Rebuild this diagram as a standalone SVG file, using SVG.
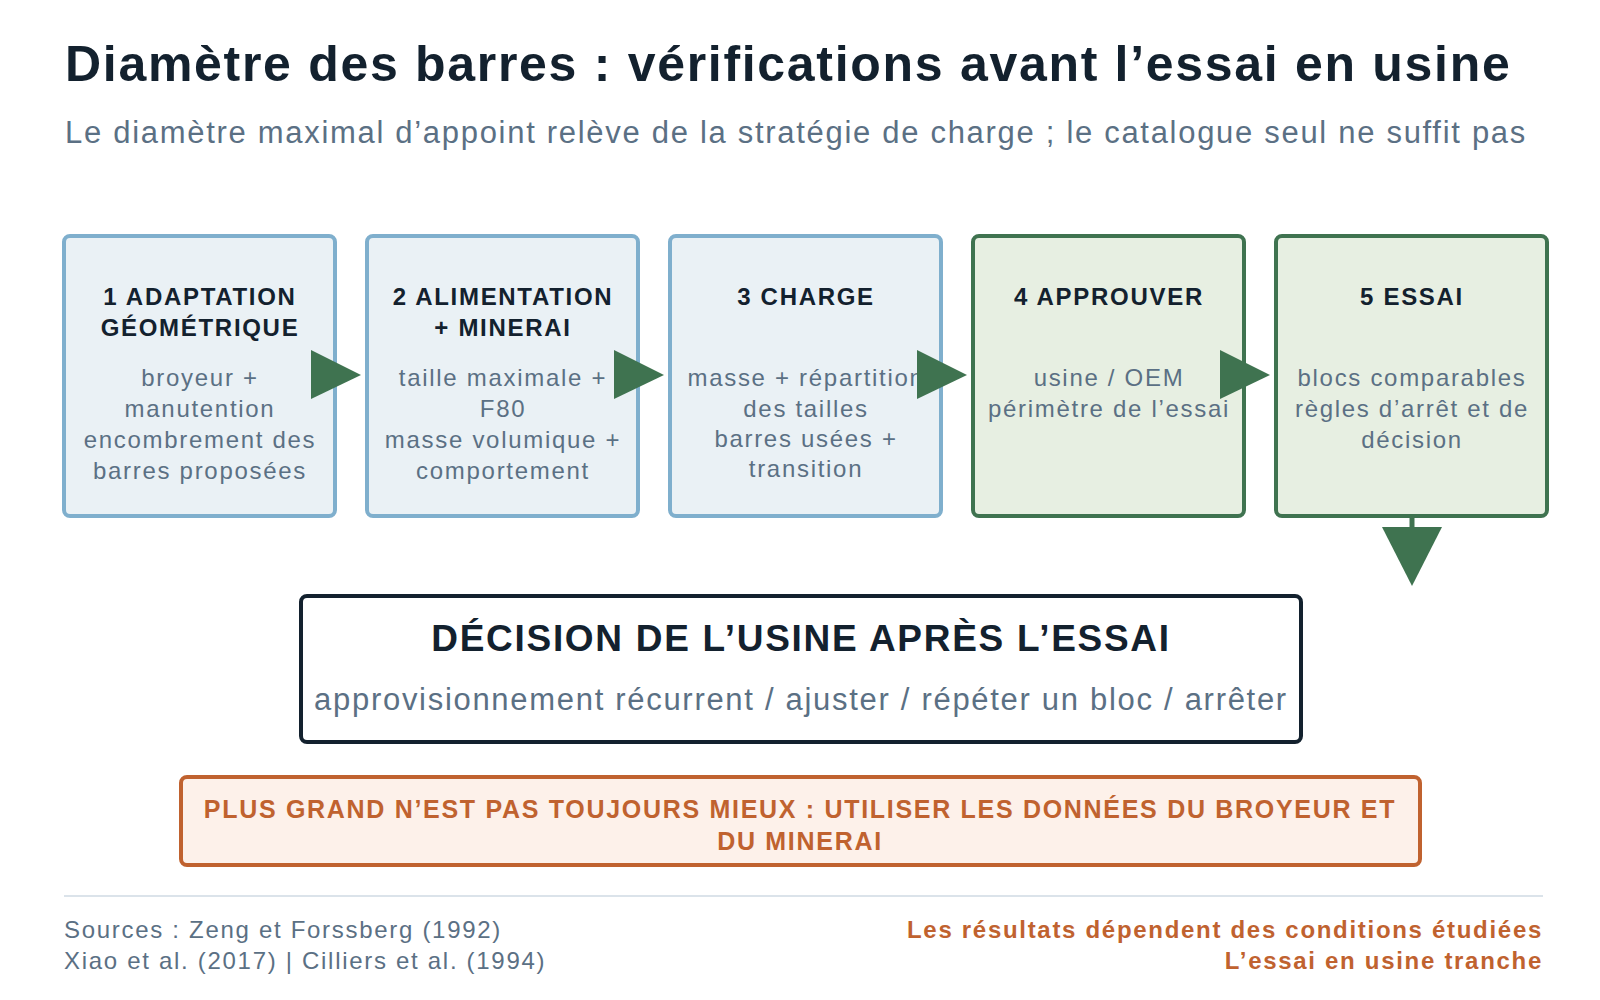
<svg xmlns="http://www.w3.org/2000/svg" width="1600" height="1000" viewBox="0 0 1600 1000">
<style>
text{font-family:"Liberation Sans",Arial,sans-serif;letter-spacing:1.7px}
.b{fill:#eaf1f5;stroke:#7fafcd;stroke-width:4}
.g{fill:#e7efe2;stroke:#3f7350;stroke-width:4}
.h{font-size:24px;font-weight:bold;fill:#13212e;text-anchor:middle}
.t{font-size:24px;fill:#5b7084;text-anchor:middle}
.ar{fill:#3f7350}
</style>
<rect width="1600" height="1000" fill="#fff"/>
<text x="65" y="81" font-size="50" font-weight="bold" fill="#13212e">Diamètre des barres : vérifications avant l’essai en usine</text>
<text x="65" y="143" font-size="31" fill="#5b7084">Le diamètre maximal d’appoint relève de la stratégie de charge ; le catalogue seul ne suffit pas</text>
<g id="n1"><rect class="b" x="64" y="236" width="271" height="280" rx="6"/>
<text class="h" x="200" y="305">1 ADAPTATION</text><text class="h" x="200" y="336">GÉOMÉTRIQUE</text>
<text class="t" x="200" y="386">broyeur +</text><text class="t" x="200" y="417">manutention</text><text class="t" x="200" y="448">encombrement des</text><text class="t" x="200" y="479">barres proposées</text></g>
<g id="n2"><rect class="b" x="367" y="236" width="271" height="280" rx="6"/>
<text class="h" x="503" y="305">2 ALIMENTATION</text><text class="h" x="503" y="336">+ MINERAI</text>
<text class="t" x="503" y="386">taille maximale +</text><text class="t" x="503" y="417">F80</text><text class="t" x="503" y="448">masse volumique +</text><text class="t" x="503" y="479">comportement</text></g>
<g id="n3"><rect class="b" x="670" y="236" width="271" height="280" rx="6"/>
<text class="h" x="806" y="305">3 CHARGE</text>
<text class="t" x="806" y="386">masse + répartition</text><text class="t" x="806" y="417">des tailles</text><text class="t" x="806" y="447">barres usées +</text><text class="t" x="806" y="477">transition</text></g>
<g id="n4"><rect class="g" x="973" y="236" width="271" height="280" rx="6"/>
<text class="h" x="1109" y="305">4 APPROUVER</text>
<text class="t" x="1109" y="386">usine / OEM</text><text class="t" x="1109" y="417">périmètre de l’essai</text></g>
<g id="n5"><rect class="g" x="1276" y="236" width="271" height="280" rx="6"/>
<text class="h" x="1412" y="305">5 ESSAI</text>
<text class="t" x="1412" y="386">blocs comparables</text><text class="t" x="1412" y="417">règles d’arrêt et de</text><text class="t" x="1412" y="448">décision</text></g>
<g id="connectors">
<polygon class="ar" points="311,350 361,375 311,399"/>
<polygon class="ar" points="614,350 664,375 614,399"/>
<polygon class="ar" points="917,350 967,375 917,399"/>
<polygon class="ar" points="1220,350 1270,375 1220,399"/>
<line x1="1412" y1="516" x2="1412" y2="530" stroke="#3f7350" stroke-width="5"/>
<polygon class="ar" points="1382,527 1442,527 1412,586"/>
</g>
<g id="decision"><rect x="301" y="596" width="1000" height="146" rx="6" fill="#fff" stroke="#13212e" stroke-width="4"/>
<text x="801" y="651" font-size="37" font-weight="bold" fill="#13212e" text-anchor="middle">DÉCISION DE L’USINE APRÈS L’ESSAI</text>
<text x="801" y="710" font-size="31" fill="#5b7084" text-anchor="middle">approvisionnement récurrent / ajuster / répéter un bloc / arrêter</text></g>
<g id="note"><rect x="181" y="777" width="1239" height="88" rx="6" fill="#fdf1ea" stroke="#c0622f" stroke-width="4"/>
<text x="800" y="818" font-size="25" font-weight="bold" fill="#c0622f" text-anchor="middle">PLUS GRAND N’EST PAS TOUJOURS MIEUX : UTILISER LES DONNÉES DU BROYEUR ET</text>
<text x="800" y="850" font-size="25" font-weight="bold" fill="#c0622f" text-anchor="middle">DU MINERAI</text></g>
<line x1="64" y1="896" x2="1543" y2="896" stroke="#dbe3ea" stroke-width="2"/>
<text x="64" y="938" font-size="24" fill="#5b7084">Sources : Zeng et Forssberg (1992)</text>
<text x="64" y="969" font-size="24" fill="#5b7084">Xiao et al. (2017) | Cilliers et al. (1994)</text>
<text x="1543" y="938" font-size="24" font-weight="bold" fill="#c0622f" text-anchor="end">Les résultats dépendent des conditions étudiées</text>
<text x="1543" y="969" font-size="24" font-weight="bold" fill="#c0622f" text-anchor="end">L’essai en usine tranche</text>
</svg>
